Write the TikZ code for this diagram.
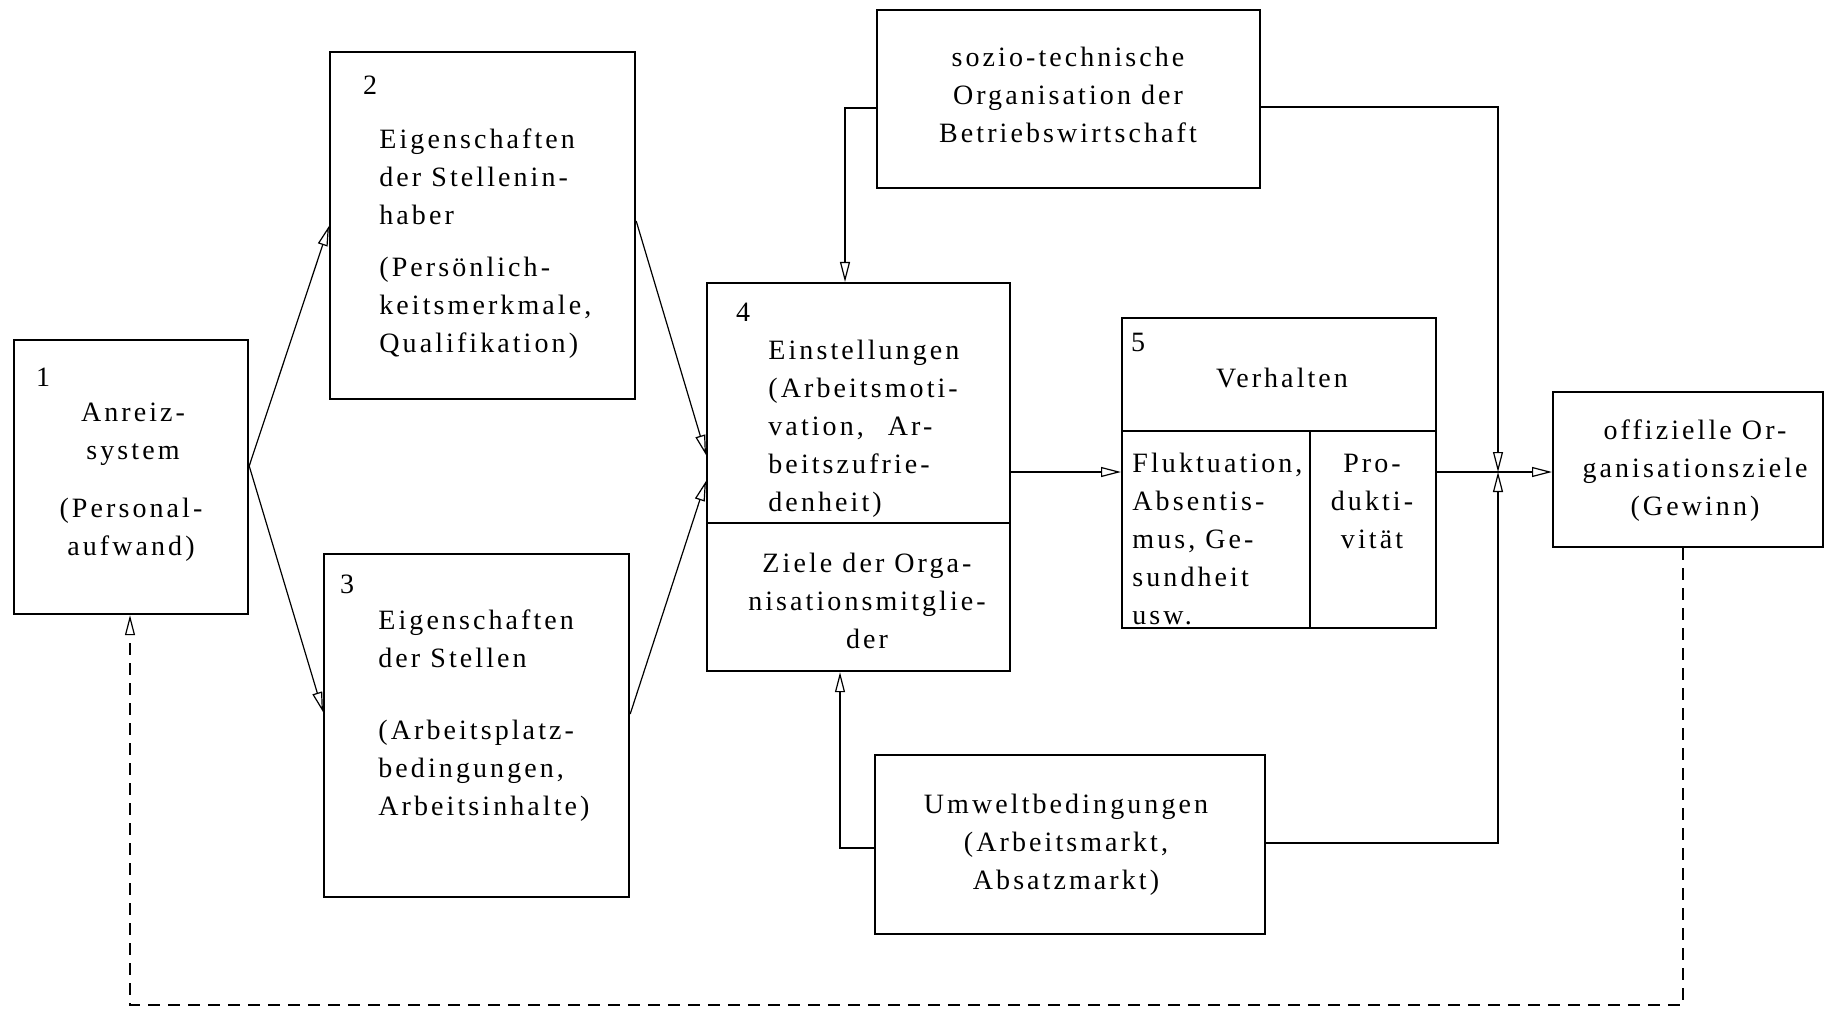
\documentclass[tikz,border=0pt]{standalone}
\usepackage{fontspec}
\setmainfont{Liberation Serif}[LetterSpace=11]
\usetikzlibrary{arrows.meta}
\begin{document}
\begin{tikzpicture}[x=0.5pt,y=-0.5pt,
  box/.style={draw, line width=1.1pt, inner sep=0pt, anchor=north west},
  txt/.style={inner sep=0pt, font=\fontsize{14}{19}\selectfont},
  conn/.style={line width=0.6pt},
  arr/.style={conn, -{Triangle[open,length=10pt,width=5pt]}},
  dashconn/.style={dash pattern=on 6pt off 4pt}
]
\path[use as bounding box] (0,0) rectangle (1830,1016);

% boxes
\node[box, minimum width=117pt, minimum height=137pt] (b1) at (13,339) {};
\node[box, minimum width=152.5pt, minimum height=173.5pt] (b2) at (329,51) {};
\node[box, minimum width=152.5pt, minimum height=171.5pt] (b3) at (323,553) {};
\node[box, minimum width=151.5pt, minimum height=194pt] (b4) at (706,282) {};
\node[box, minimum width=191.5pt, minimum height=89pt] (soz) at (876,9) {};
\node[box, minimum width=157pt, minimum height=155pt] (b5) at (1121,317) {};
\node[box, minimum width=135pt, minimum height=77.5pt] (off) at (1552,391) {};
\node[box, minimum width=195pt, minimum height=89.5pt] (umw) at (874,754) {};

% dividers
\draw[line width=1.1pt] (b4.west |- 0,523) -- (b4.east |- 0,523);
\draw[line width=1.1pt] (b5.west |- 0,431) -- (b5.east |- 0,431);
\draw[line width=1.1pt] (1310,431) -- (b5.south -| 1310,0);

% connectors
\coordinate (x) at (1498,472);
\draw[arr] (b1.east |- 0,466) -- (b2.west |- 0,226);
\draw[arr] (b1.east |- 0,466) -- (b3.west |- 0,712);
\draw[arr] (b2.east |- 0,221) -- (b4.west |- 0,455);
\draw[arr] (b3.east |- 0,714) -- (b4.west |- 0,481);
\draw[arr] (b4.east |- 0,472) -- (b5.west |- 0,472);
\draw[arr] (b5.east |- 0,472) -- (off.west |- 0,472);
\draw[arr] (soz.west |- 0,108) -| (b4.north -| 845,0);
\draw[arr] (soz.east |- 0,107) -| (x);
\draw[arr] (umw.east |- 0,843) -| (x);
\draw[arr] (umw.west |- 0,848) -| (b4.south -| 840,0);
\coordinate (dc) at (1683,1005);
\draw[arr, dashconn] (off.south -| 1683,0) -- (dc) -| (b1.south -| 130,0);

% texts
\node[txt] (n1) at (43,377) {1};
\node[txt, align=center] (t1a) at (133,434) {Anreiz-\\system};
\node[txt, align=center] (t1b) at (131,530) {(Personal-\\aufwand)};
\node[txt] (n2) at (370,85) {2};
\node[txt, align=left, anchor=west] (t2a) at (379,177) {Eigenschaften\\der Stellenin-\\haber};
\node[txt, align=left, anchor=west] (t2b) at (379,308) {(Persönlich-\\keitsmerkmale,\\Qualifikation)};
\node[txt] (n3) at (347,584) {3};
\node[txt, align=left, anchor=west] (t3a) at (378,639) {Eigenschaften\\der Stellen};
\node[txt, align=left, anchor=west] (t3b) at (378,771) {(Arbeitsplatz-\\bedingungen,\\Arbeitsinhalte)};
\node[txt] (n4) at (743,312) {4};
\node[txt, align=left, anchor=west] (t4a) at (768,429) {Einstellungen\\(Arbeitsmoti-\\vation,\hspace*{12pt}Ar-\\beitszufrie-\\denheit)};
\node[txt, align=center] (t4b) at (867,601) {Ziele der Orga-\\nisationsmitglie-\\der};
\node[txt, align=center] (tsoz) at (1068,95) {sozio-technische\\Organisation der\\Betriebswirtschaft};
\node[txt] (n5) at (1138,342) {5};
\node[txt] (t5) at (1282,378) {Verhalten};
\node[txt, align=left, anchor=west] (t5a) at (1132,539) {Fluktuation,\\Absentis-\\mus, Ge-\\sundheit\\usw.};
\node[txt, align=center] (t5b) at (1372,501) {Pro-\\dukti-\\vität};
\node[txt, align=center] (tumw) at (1066,845) {Umweltbedingungen\\(Arbeitsmarkt,\\Absatzmarkt)};
\node[txt, align=center] (toff) at (1695,471) {offizielle Or-\\ganisationsziele\\(Gewinn)};
\end{tikzpicture}
\end{document}
